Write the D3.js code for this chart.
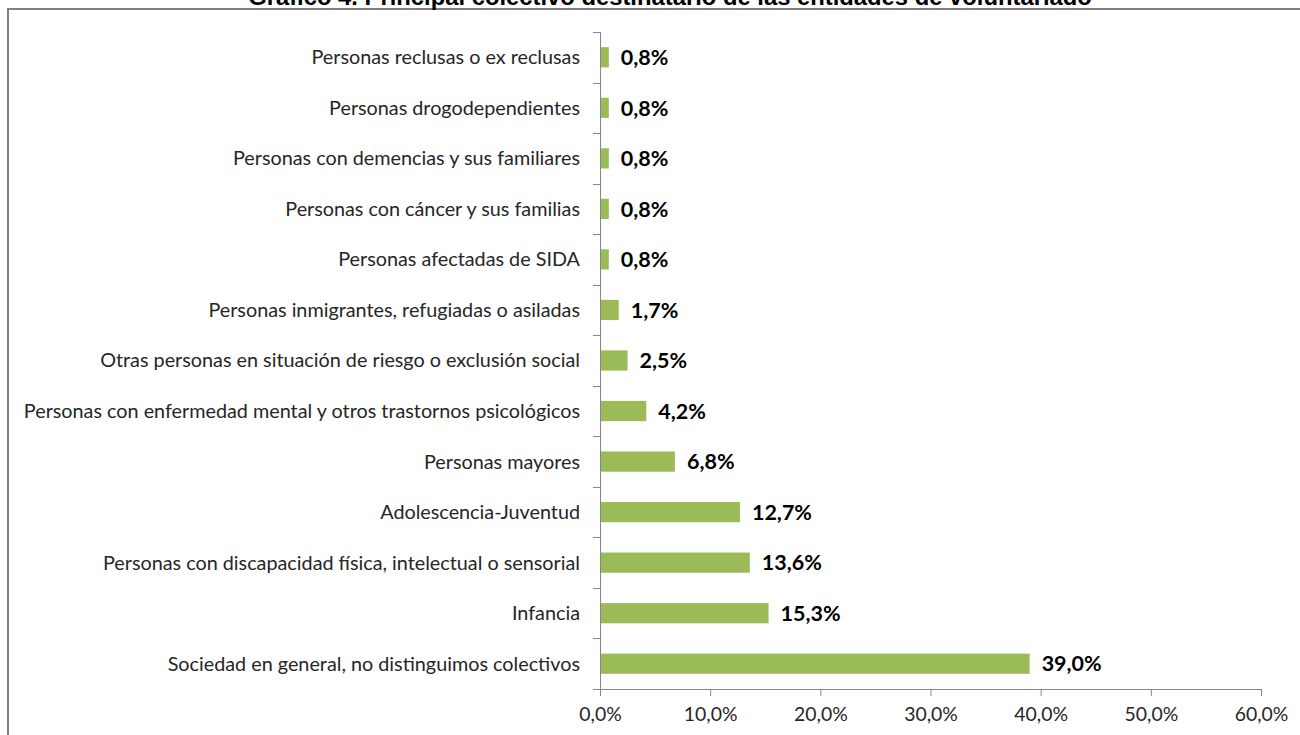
<!DOCTYPE html>
<html>
<head>
<meta charset="utf-8">
<script src="https://cdn.jsdelivr.net/npm/d3@7"></script>
<style>
  html, body { margin: 0; padding: 0; background: #fff; }
  svg { display: block; }
</style>
</head>
<body>
<svg id="chart" width="1300" height="735"></svg>
<script>
const title = "Gráfico 4. Principal colectivo destinatario de las entidades de voluntariado";
const categories = [
  "Personas reclusas o ex reclusas",
  "Personas drogodependientes",
  "Personas con demencias y sus familiares",
  "Personas con cáncer y sus familias",
  "Personas afectadas de SIDA",
  "Personas inmigrantes, refugiadas o asiladas",
  "Otras personas en situación de riesgo o exclusión social",
  "Personas con enfermedad mental y otros trastornos psicológicos",
  "Personas mayores",
  "Adolescencia-Juventud",
  "Personas con discapacidad física, intelectual o sensorial",
  "Infancia",
  "Sociedad en general, no distinguimos colectivos"
];
const values = [0.8, 0.8, 0.8, 0.8, 0.8, 1.7, 2.5, 4.2, 6.8, 12.7, 13.6, 15.3, 39.0];
const xTicks = [0, 10, 20, 30, 40, 50, 60];

const fmt = v => v.toFixed(1).replace(".", ",") + "%";
const svg = d3.select("#chart");
const labelFont = "Lato, 'Open Sans', sans-serif";

// Outer border
svg.append("rect")
  .attr("x", 8).attr("y", 9)
  .attr("width", 1300).attr("height", 740)
  .attr("fill", "none").attr("stroke", "#808080").attr("stroke-width", 2);

// Title (cropped at top, as in the reference)
svg.append("text")
  .attr("x", 670).attr("y", 5)
  .attr("text-anchor", "middle")
  .attr("font-family", "'Liberation Sans', Arial, sans-serif")
  .attr("font-weight", "bold")
  .attr("font-size", 23.8)
  .attr("fill", "#000")
  .text(title);

const x = d3.scaleLinear().domain([0, 60]).range([600, 1261]);
const y = d3.scaleBand().domain(categories).range([32, 689]).paddingInner(0.6).paddingOuter(0.3);

// Bars
svg.append("g").selectAll("rect")
  .data(values)
  .join("rect")
  .attr("x", x(0))
  .attr("y", (d, i) => y(categories[i]))
  .attr("width", d => x(d) - x(0))
  .attr("height", y.bandwidth())
  .attr("fill", "#9BBB59");

// Value labels
svg.append("g").selectAll("text")
  .data(values)
  .join("text")
  .attr("x", d => x(d) + 12)
  .attr("y", (d, i) => y(categories[i]) + y.bandwidth() / 2)
  .attr("dy", "0.36em")
  .attr("font-family", labelFont)
  .attr("font-weight", "bold")
  .attr("font-size", 21.5)
  .attr("fill", "#000")
  .text(d => fmt(d));

// category tick marks at band boundaries
const bounds = categories.map(c => y(c) - y.step() * y.paddingInner() / 2);
bounds.push(689);
svg.append("g").selectAll("line")
  .data(bounds)
  .join("line")
  .attr("x1", x(0) - 7).attr("x2", x(0))
  .attr("y1", d => Math.round(d) + 0.5).attr("y2", d => Math.round(d) + 0.5)
  .attr("stroke", "#868686").attr("stroke-width", 1);
svg.append("line")
  .attr("x1", x(0) + 0.5).attr("x2", x(0) + 0.5)
  .attr("y1", 32).attr("y2", 689)
  .attr("stroke", "#868686").attr("stroke-width", 1);

// Category labels
svg.append("g").selectAll("text")
  .data(categories)
  .join("text")
  .attr("x", 580)
  .attr("y", d => y(d) + y.bandwidth() / 2)
  .attr("dy", "0.35em")
  .attr("text-anchor", "end")
  .attr("font-family", labelFont)
  .attr("font-size", 19.8)
  .attr("fill", "#262626")
  .text(d => d);

// X axis
const xAxis = d3.axisBottom(x).tickValues(xTicks).tickSize(7).tickPadding(11)
  .tickFormat(d => d.toFixed(1).replace(".", ",") + "%");
const xG = svg.append("g").attr("transform", `translate(0,689)`).call(xAxis);
xG.select(".domain").attr("d", `M${x(0)},0.5H${x(60)}`).attr("stroke", "#868686");
xG.selectAll(".tick line").attr("stroke", "#868686");
xG.selectAll(".tick text")
  .attr("font-family", labelFont)
  .attr("font-size", 19.4)
  .attr("fill", "#262626");
</script>
</body>
</html>
